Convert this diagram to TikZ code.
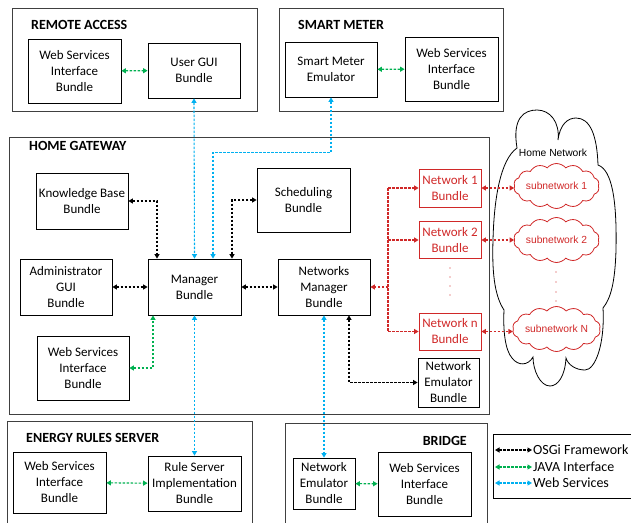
\documentclass[tikz,border=0pt]{standalone}
\usepackage{fontspec}
\setmainfont{Carlito}
\newfontfamily\cloudfont{Liberation Sans}
\usetikzlibrary{arrows.meta,shapes.symbols}
\definecolor{gwgreen}{RGB}{0,176,80}
\definecolor{gwblue}{RGB}{0,176,240}
\definecolor{gwred}{RGB}{208,40,40}
\definecolor{gwframe}{RGB}{64,64,64}
\tikzstyle{framebox} = [rectangle, draw=gwframe, line width=0.9pt, inner sep=0pt]
\tikzstyle{frametitle} = [anchor=west, font=\bfseries\fontsize{14}{16}\selectfont, inner sep=0pt]
\tikzstyle{bundle} = [rectangle, draw, line width=0.8pt, align=center, inner sep=0pt, font=\fontsize{13}{16}\selectfont]
\tikzstyle{netbundle} = [bundle, draw=gwred, text=gwred]
\tikzstyle{subnet} = [cloud, cloud puffs=14, cloud puff arc=100, cloud ignores aspect, draw=gwred, text=gwred, line width=0.8pt, inner sep=0pt, minimum width=85pt, minimum height=45pt, font=\cloudfont\fontsize{10.3}{12}\selectfont]
\tikzstyle{link} = [line width=1.1pt, dash pattern=on 2.5pt off 1.5pt, >={Triangle[length=4.5pt,width=5pt]}]
\tikzstyle{osgi} = [link, <->, color=black]
\tikzstyle{java} = [link, <->, color=gwgreen]
\tikzstyle{websrv} = [link, <->, color=gwblue]
\tikzstyle{netlink} = [link, color=gwred]

\begin{document}
\begin{tikzpicture}[x=1pt, y=-1pt]
    \useasboundingbox (0,0) rectangle (631,522);

    % Remote access
    \node[framebox, minimum width=245pt, minimum height=103pt] (ra) at (134.5,59.5) {};
    \node[frametitle] (ratitle) at (31,25) {REMOTE ACCESS};
    \node[bundle, minimum width=93pt, minimum height=64pt] (raws) at (74.5,71) {Web Services\\Interface\\Bundle};
    \node[bundle, minimum width=92pt, minimum height=55pt] (ragui) at (194,70.5) {User GUI\\Bundle};

    % Smart meter
    \node[framebox, minimum width=224pt, minimum height=103pt] (sm) at (391,59.5) {};
    \node[frametitle] (smtitle) at (298,25) {SMART METER};
    \node[bundle, minimum width=92pt, minimum height=55pt] (smemu) at (331,69.5) {Smart Meter\\Emulator};
    \node[bundle, minimum width=93pt, minimum height=64pt] (smws) at (451.5,69) {Web Services\\Interface\\Bundle};

    % Home gateway
    \node[framebox, minimum width=480pt, minimum height=277pt] (hg) at (249,275.5) {};
    \node[frametitle] (hgtitle) at (29,146) {HOME GATEWAY};
    \node[bundle, minimum width=92pt, minimum height=56pt] (kb) at (82,201) {Knowledge Base\\Bundle};
    \node[bundle, minimum width=93pt, minimum height=64pt] (sched) at (303.5,200) {Scheduling\\Bundle};
    \node[bundle, minimum width=92pt, minimum height=56pt] (admin) at (66,287) {Administrator\\GUI\\Bundle};
    \node[bundle, minimum width=93pt, minimum height=56pt] (mgr) at (194.5,287) {Manager\\Bundle};
    \node[bundle, minimum width=92pt, minimum height=56pt] (netmgr) at (324,287) {Networks\\Manager\\Bundle};
    \node[bundle, minimum width=92pt, minimum height=64pt] (hgws) at (83,368) {Web Services\\Interface\\Bundle};
    \node[bundle, minimum width=61pt, minimum height=49pt] (hgemu) at (448.5,382.5) {Network\\Emulator\\Bundle};
    \node[netbundle, minimum width=62pt, minimum height=38pt] (net1) at (450,188) {Network 1\\Bundle};
    \node[netbundle, minimum width=62pt, minimum height=37pt] (net2) at (450,240) {Network 2\\Bundle};
    \node[netbundle, minimum width=62pt, minimum height=37pt] (netn) at (450,331.5) {Network n\\Bundle};
    \foreach \y in {268,277,286,295} \fill[gwred] (450,\y) circle (0.6pt);

    % Home network
    \draw[line width=0.8pt] (517,148) .. controls (512,118) and (524,110) .. (537,110)
        .. controls (550,110) and (560,122) .. (558,140)
        .. controls (560,124) and (568,118) .. (576,118)
        .. controls (590,118) and (597,135) .. (598,165)
        .. controls (612,170) and (617,200) .. (616,250)
        .. controls (615,282) and (611,298) .. (603,308)
        .. controls (605,345) and (595,370) .. (585,370)
        .. controls (576,370) and (568,365) .. (566,358)
        .. controls (565,376) and (558,386) .. (550,386)
        .. controls (540,386) and (533,370) .. (533,357)
        .. controls (528,366) and (518,366) .. (512,358)
        .. controls (505,350) and (503,330) .. (504,310)
        .. controls (494,295) and (492,270) .. (493,240)
        .. controls (494,200) and (500,160) .. (517,148) -- cycle;
    \node[font=\cloudfont\fontsize{10.3}{12}\selectfont, inner sep=0pt] (homenet) at (553,153) {Home Network};
    \node[subnet] (sub1) at (556.5,186) {subnetwork 1};
    \node[subnet] (sub2) at (556.5,240) {subnetwork 2};
    \node[subnet] (subn) at (556.5,329) {subnetwork N};
    \foreach \y in {272,282,292,301} \fill[gwred] (556,\y) circle (0.6pt);

    % Energy rules server
    \node[framebox, minimum width=245pt, minimum height=106pt] (ers) at (129.5,474) {};
    \node[frametitle] (erstitle) at (26,438) {ENERGY RULES SERVER};
    \node[bundle, minimum width=93pt, minimum height=61pt] (ersws) at (59.5,482.5) {Web Services\\Interface\\Bundle};
    \node[bundle, minimum width=93pt, minimum height=55pt] (rules) at (194.5,483.5) {Rule Server\\Implementation\\Bundle};

    % Bridge
    \node[framebox, minimum width=202pt, minimum height=104pt] (br) at (386,475) {};
    \node[frametitle, anchor=east] (brtitle) at (467,441) {BRIDGE};
    \node[bundle, minimum width=62pt, minimum height=51pt] (bremu) at (324,483.5) {Network\\Emulator\\Bundle};
    \node[bundle, minimum width=93pt, minimum height=64pt] (brws) at (424.5,484) {Web Services\\Interface\\Bundle};

    % Legend
    \node[framebox, draw=black, minimum width=140pt, minimum height=64pt] (lg) at (563,466) {};
    \node[anchor=west, inner sep=1pt, font=\fontsize{14}{16}\selectfont] (lgosgi) at (532,450) {OSGi Framework};
    \node[anchor=west, inner sep=1pt, font=\fontsize{14}{16}\selectfont] (lgjava) at (532,467) {JAVA Interface};
    \node[anchor=west, inner sep=1pt, font=\fontsize{14}{16}\selectfont] (lgweb) at (532,483) {Web Services};
    \coordinate (lgosgis) at (495,450);
    \coordinate (lgjavas) at (495,467);
    \coordinate (lgwebs) at (495,483);
    \draw[osgi] (lgosgis) -- (lgosgi.west);
    \draw[java] (lgjavas) -- (lgjava.west);
    \draw[websrv] (lgwebs) -- (lgweb.west);

    % JAVA interface links
    \draw[java] (raws) -- (ragui);
    \draw[java] (smemu) -- (smws);
    \draw[java] (hgws.east) -| ([xshift=-41.5pt]mgr.south);
    \draw[java] (ersws) -- (rules);
    \draw[java] (bremu) -- (brws);

    % Web services links
    \draw[websrv] (ragui.south) -- (mgr.north);
    \draw[websrv] (smemu.south) -- ++(0,55) -| ([xshift=18.5pt]mgr.north);
    \draw[websrv] (mgr.south) -- (rules.north);
    \draw[websrv] (netmgr.south) -- (bremu.north);

    % OSGi links
    \draw[osgi] (kb.east) -| ([xshift=-37.5pt]mgr.north);
    \draw[osgi] (sched.west) -| ([xshift=37.5pt]mgr.north);
    \draw[osgi] (admin) -- (mgr);
    \draw[osgi] (mgr) -- (netmgr);
    \draw[osgi] ([xshift=25pt]netmgr.south) |- (hgemu.west);

    % Network links
    \coordinate (trunk) at (388,287);
    \draw[netlink] (trunk |- net1.west) -- (trunk |- netn.west);
    \draw[netlink, ->] (trunk) -- (netmgr.east);
    \draw[netlink, ->] (trunk |- net1.west) -- (net1.west);
    \draw[netlink, ->] (trunk |- net2.west) -- (net2.west);
    \draw[netlink, ->] (trunk |- netn.west) -- (netn.west);
    \draw[netlink, <->] (net1.east) -- (net1.east -| sub1.west);
    \draw[netlink, <->] (net2.east) -- (net2.east -| sub2.west);
    \draw[netlink, <->] (netn.east) -- (netn.east -| subn.west);
\end{tikzpicture}
\end{document}
